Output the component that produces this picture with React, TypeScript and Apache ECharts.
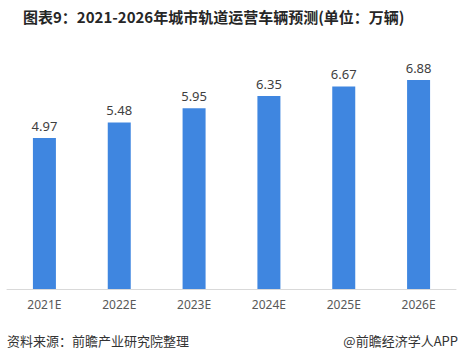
import React, { useEffect, useRef } from "react";
import * as echarts from "echarts";

const categories = ["2021E", "2022E", "2023E", "2024E", "2025E", "2026E"];
const values = [4.97, 5.48, 5.95, 6.35, 6.67, 6.88];
const titleText = "图表9：2021-2026年城市轨道运营车辆预测(单位：万辆)";
const sourceText = "资料来源：前瞻产业研究院整理";
const brandText = "@前瞻经济学人APP";

export default function App() {
  const ref = useRef<HTMLDivElement>(null);
  useEffect(() => {
    const chart = echarts.init(ref.current!, null, { renderer: "svg" });
    chart.setOption({
      animation: false,
      backgroundColor: "#ffffff",
      title: {
        text: titleText,
        left: 23,
        top: 9,
        padding: 0,
        textStyle: {
          fontSize: 15,
          fontWeight: "bold",
          color: "#262626",
          fontFamily: "Noto Sans CJK SC",
        },
      },
      grid: { left: 7, right: 3, top: 46, bottom: 74, containLabel: false },
      xAxis: {
        type: "category",
        data: categories,
        axisLine: { lineStyle: { color: "#d9d9d9" } },
        axisTick: { show: false },
        axisLabel: { color: "#595959", fontSize: 12, margin: 9, fontFamily: "Noto Sans" },
      },
      yAxis: {
        type: "value",
        min: 0,
        max: 8,
        show: false,
        splitLine: { show: false },
      },
      series: [
        {
          type: "bar",
          data: values,
          barWidth: 23,
          itemStyle: { color: "#3f86e0" },
          label: {
            show: true,
            position: "top",
            distance: 6,
            color: "#404040",
            fontSize: 13,
            fontFamily: "Noto Sans",
            formatter: (p: any) => p.value.toFixed(2),
          },
        },
      ],
      graphic: [
        {
          type: "text",
          x: 7,
          y: 334,
          style: {
            text: sourceText,
            fontSize: 13,
            fill: "#333333",
            fontFamily: "Noto Sans CJK SC",
            textVerticalAlign: "top",
          },
        },
        {
          type: "text",
          x: 458,
          y: 334,
          style: {
            text: brandText,
            fontSize: 13,
            fill: "#333333",
            fontFamily: "Noto Sans CJK SC",
            textAlign: "right",
            textVerticalAlign: "top",
          },
        },
      ],
    });
    return () => chart.dispose();
  }, []);
  return <div ref={ref} style={{ width: 459, height: 363, position: "absolute", left: 0, top: 0 }} />;
}
